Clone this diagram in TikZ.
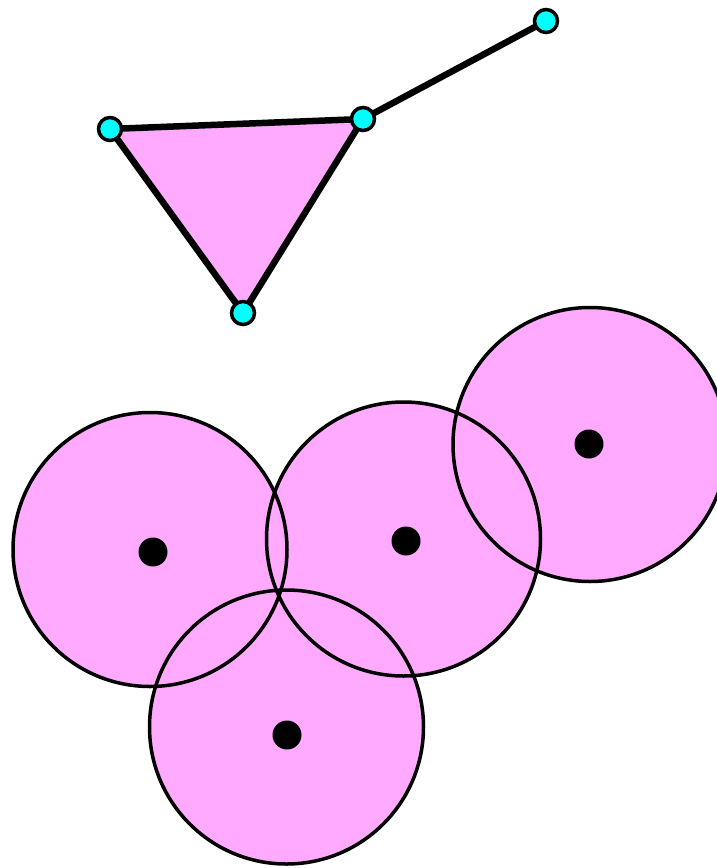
\documentclass[tikz,border=0pt]{standalone}
\begin{document}
\begin{tikzpicture}[x=1pt,y=-1pt,
  vert/.style={circle,draw=black,fill=aqua,line width=3.5pt,minimum size=23pt,inner sep=0pt},
  ctr/.style={circle,fill=black,minimum size=29pt,inner sep=0pt},
  edge/.style={line width=6.5pt},
  rim/.style={draw=black,line width=3.5pt}]
\definecolor{pinkfill}{HTML}{FFAAFF}
\definecolor{aqua}{HTML}{00FFFF}
\useasboundingbox (0,0) rectangle (717,868);
% triangle and segment
\coordinate (A) at (110,129);
\coordinate (B) at (363,119);
\coordinate (C) at (243,313);
\coordinate (D) at (546,21);
\fill[pinkfill] (A) -- (B) -- (C) -- cycle;
\draw[edge,line join=round] (A) -- (B) -- (C) -- cycle;
\draw[edge] (B) -- (D);
\node[vert] (a) at (A) {};
\node[vert] (b) at (B) {};
\node[vert] (c) at (C) {};
\node[vert] (d) at (D) {};
% circles
\coordinate (c1) at (150,549.5);
\coordinate (c2) at (403.5,539);
\coordinate (c3) at (590,444.5);
\coordinate (c4) at (286.5,727);
\foreach \c in {c1,c2,c3,c4} \fill[pinkfill] (\c) circle (137);
\foreach \c in {c1,c2,c3,c4} \draw[rim] (\c) circle (137);
\node[ctr] (p1) at (153,552) {};
\node[ctr] (p2) at (406,541) {};
\node[ctr] (p3) at (589,444) {};
\node[ctr] (p4) at (287,735) {};
\end{tikzpicture}
\end{document}
